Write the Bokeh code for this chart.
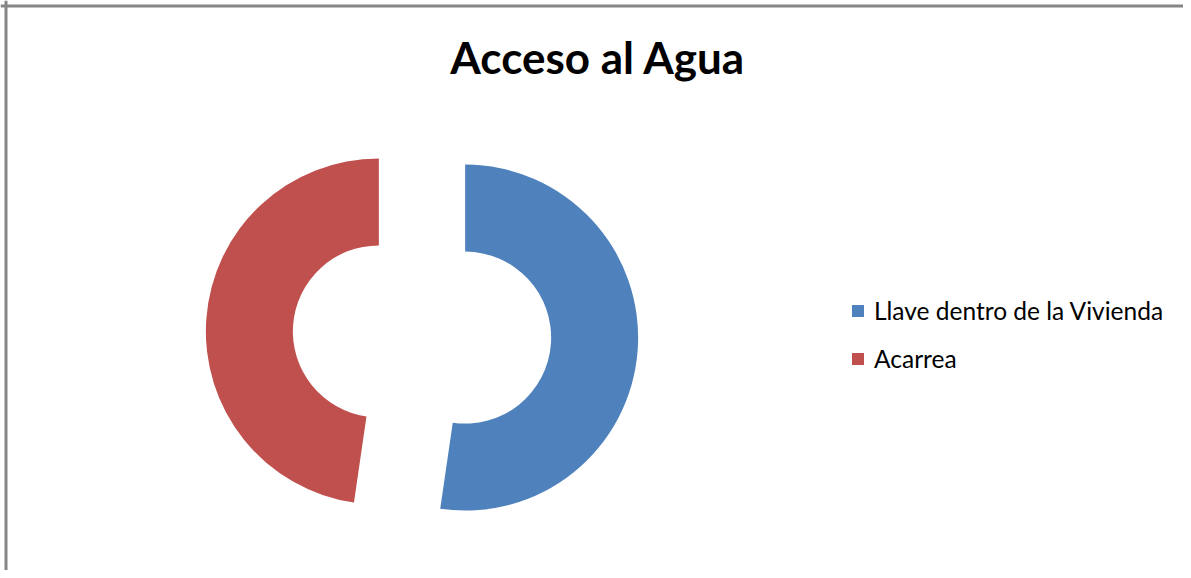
import math
from bokeh.plotting import figure
from bokeh.models import Range1d, Span, Label, Legend, LegendItem, ColumnDataSource
from bokeh.embed import file_html
from bokeh.resources import INLINE

# ---- data ----
title_text = "Acceso al Agua"
categories = ["Llave dentro de la Vivienda", "Acarrea"]
values = [52.3, 47.7]
colors = ["#4F81BD", "#C0504D"]

# ---- layout (picture pixels) ----
W, H = 1183, 570
def px(x):
    return x
def py(y):
    return H - y

center_x, center_y = 421.5, 334.0
outer_r, inner_r = 173.0, 86.0
explode = 0.25 * outer_r

total = sum(values)
starts, ends, cxs, cys = [], [], [], []
a = math.pi / 2
for v in values:
    span = 2 * math.pi * v / total
    s, e = a, a - span
    mid = a - span / 2
    starts.append(s)
    ends.append(e)
    cxs.append(px(center_x) + explode * math.cos(mid))
    cys.append(py(center_y) + explode * math.sin(mid))
    a = e

src = ColumnDataSource(dict(x=cxs, y=cys, start=starts, end=ends, color=colors, label=categories))

p = figure(width=W, height=H, output_backend="svg", toolbar_location=None,
           x_range=Range1d(0, W), y_range=Range1d(0, H),
           min_border=0, outline_line_color=None, background_fill_color="white",
           border_fill_color="white")
p.axis.visible = False
p.grid.visible = False

r = p.annular_wedge(x="x", y="y", inner_radius=inner_r, outer_radius=outer_r,
                    start_angle="start", end_angle="end", direction="clock",
                    fill_color="color", line_color=None, source=src)

# chart border (top and left visible)
p.add_layout(Span(location=py(5.5), dimension="width", line_color="#868686", line_width=3))
p.add_layout(Span(location=px(5.5), dimension="height", line_color="#868686", line_width=3))

p.add_layout(Label(x=597.5, y=py(56), text=title_text, text_align="center",
                   text_baseline="alphabetic", text_font="Lato", text_font_style="bold",
                   text_font_size="44px", text_color="#000000"))

legend = Legend(items=[LegendItem(label=categories[i], renderers=[r], index=i) for i in range(len(categories))],
                location=(850, 197), orientation="vertical",
                glyph_width=15, glyph_height=15, label_text_font="Lato",
                label_text_font_size="24.5px", label_text_color="#000000",
                label_standoff=9, spacing=19, padding=0, margin=0,
                border_line_color=None, background_fill_alpha=0)
p.add_layout(legend)

open("out.html", "w").write(file_html(p, INLINE))
